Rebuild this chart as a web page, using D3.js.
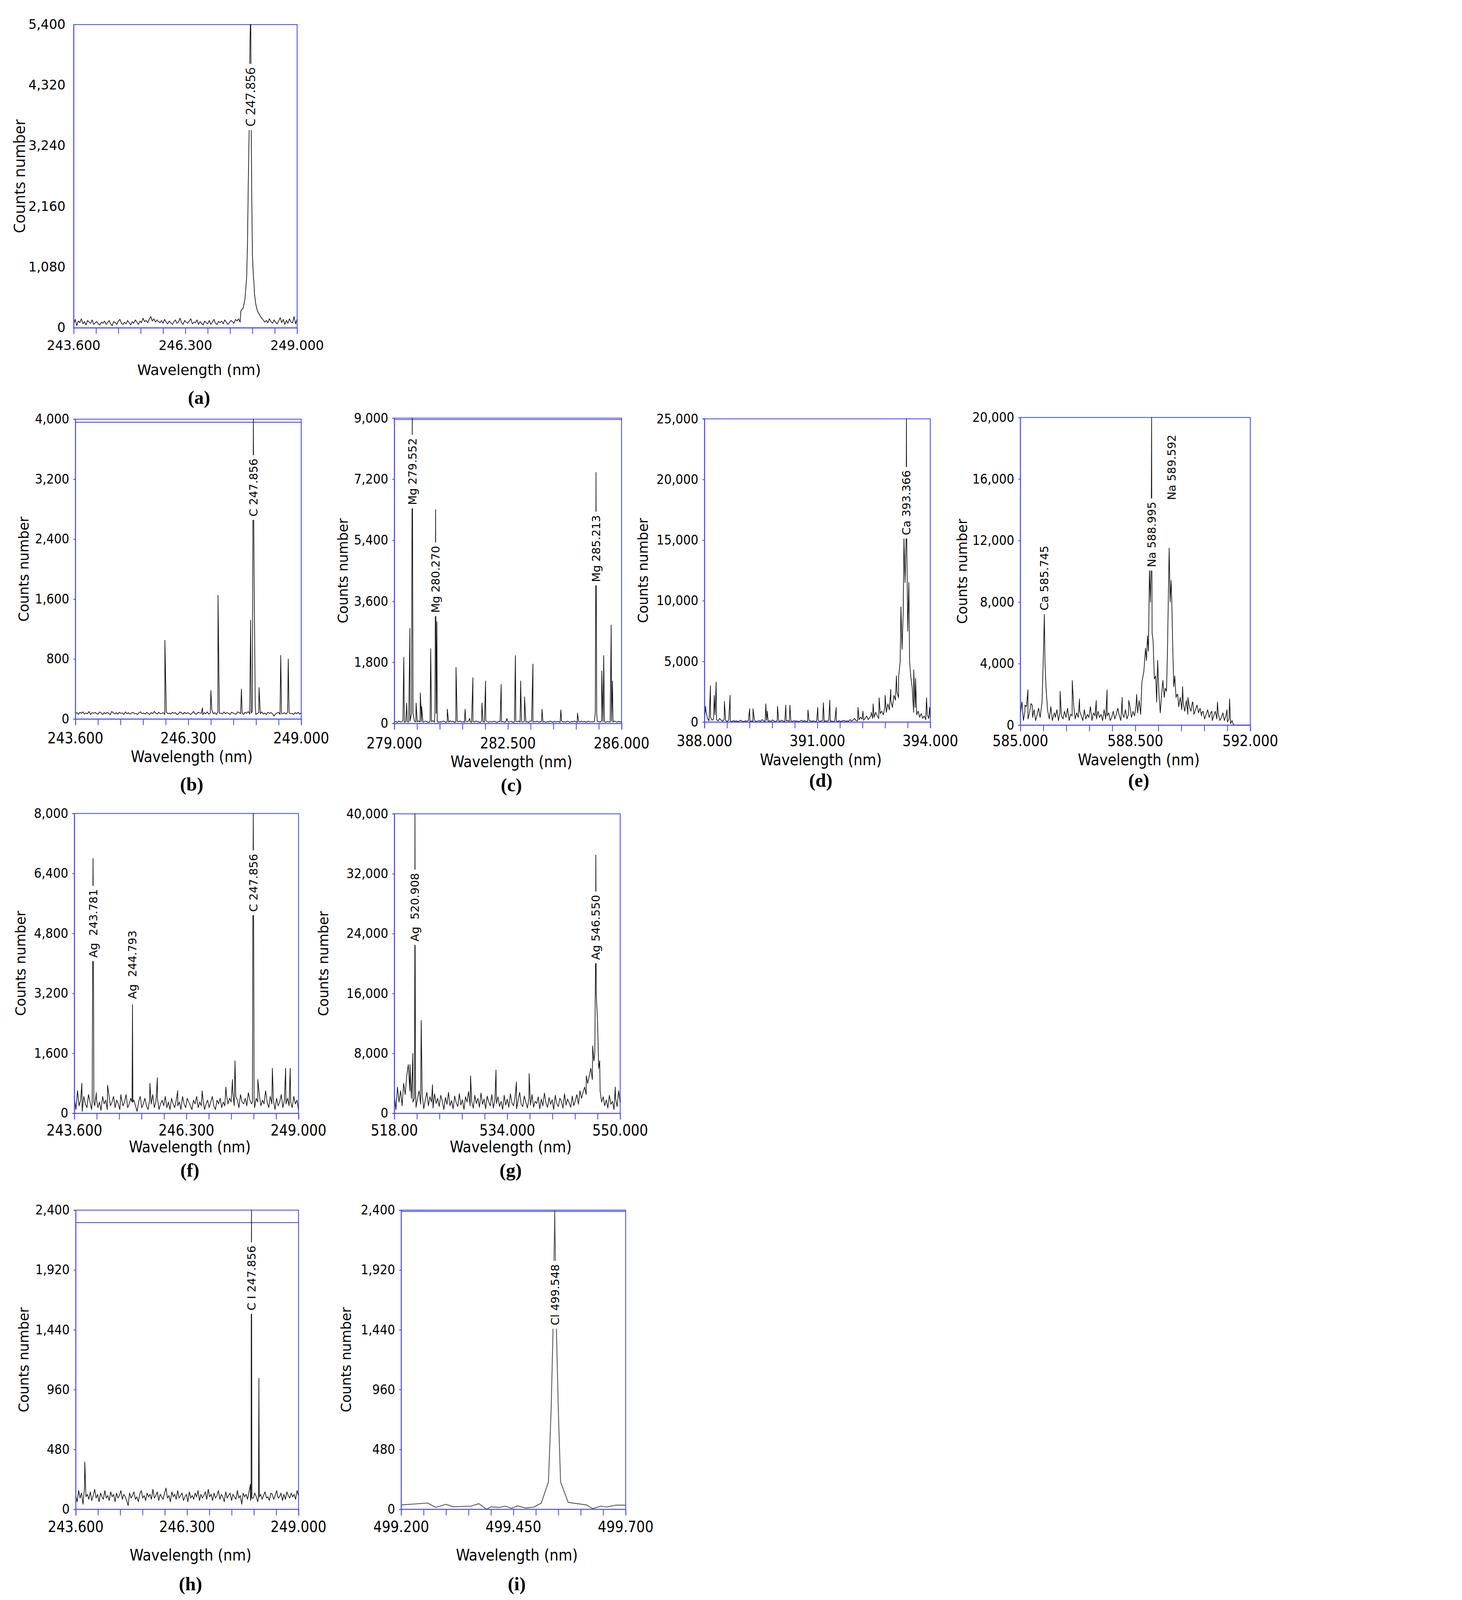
<!DOCTYPE html>
<html><head><meta charset="utf-8">
<script src="https://cdn.jsdelivr.net/npm/d3@7"></script>
<style>html,body{margin:0;padding:0;background:#fff;overflow:hidden;width:100%;height:100%}svg{display:block;width:100vw;height:100vh}</style>
</head><body>
<svg id="c" viewBox="0 0 3742 4691" preserveAspectRatio="xMinYMin meet"></svg>
<script>
// ---------------- DATA ----------------
const aNoise=[60,150,40,120,90,160,70,110,50,130,100,80,140,60,90,110,70,50,100,80,120,60,90,130,70,40,110,90,60,120,150,80,60,100,70,130,90,50,110,80,140,100,60,120,90,170,110,130,90,150,200,120,160,100,140,110,90,130,80,150,100,70,120,90,60,110,140,80,100,170,90,60,130,100,80,120,160,70,100,90,140,60,110,80,50,120,90,70,130,60,100,150,80,60,110,90,120,70,140,100,60,90,130,110,80,150,120,160,100,180,140,200,150,250,300,280,250,200,180,230,150,120,170,140,100,130,90,160,110,80,140,100,70,120,180,90,150,60,130,80,160,100,90,200,70,150];
const aPeaks=[[[247.64,300],[247.7,360],[247.74,520],[247.78,900],[247.8,1500],[247.82,2600],[247.84,3500],[247.86,5100],[247.87,5400],[247.88,5400],[247.89,3600],[247.905,2200],[247.92,1300],[247.94,950],[247.955,820],[247.97,600],[248.0,420],[248.04,300],[248.1,220]]];
const aLabels=[["C 247.856",247.872,4110]];

const bNoise=[70,85,60,90,75,95,65,80,70,100,60,85,75,90,70,65,95,80,60,85,70,90,75,60,100,80,70,85,65,90,75,80,60,95,70,85,65,80,90,70,75,60,85,95,70,80,65,90,75,60,85,70,100,80,65,90,70,75,85,60,95,70,80,65,90,75,85,60,70,95,80,65,90,70,85,75,60,80,100,70,65,90,80,75,60,85,70,95,65,80,120,70,85,60,90,75,80,65,95,70,85,75,60,90,80,70,65,95,85,70,80,60,90,75,100,65,80,70,90,60,75,85,70,95,65,80,60,90,75,85,70,40,65,80,90,60,75,70,85,65,90,80,70,75,60,85,70,90,65,80];
const bPeaks=[[[245.74,1050]],[[246.64,150]],[[246.84,380]],[[247.01,1650]],[[247.57,400]],[[247.79,1320]],[[247.83,100],[247.845,2620],[247.856,4000],[247.865,2600],[247.88,1500],[247.9,200]],[[247.99,420]],[[248.51,850]],[[248.69,800]]];
const bLabels=[["C 247.856",247.856,3088]];
const bExtra=[3960];

const cNoise=[40,60,30,70,50,45,80,35,60,50,40,70,55,30,65,45,50,75,40,60,35,55,70,45,30,60,50,80,40,55,65,35,50,45,70,60,30,55,40,75,50,65,35,45,60,50,70,40,55,30,65,45,80,50,35,60,40,70,55,45,30,65,50,40,75,55,35,60,45,50,70,40,30,65,55,45,60,35,50,80,40,55,65,30,45,60,50,70,35,55,40,65,45,50,30,75,60,40,55,45,70,35,50,65,40,60,30,55,45,70,50,35,65,40,60,55,30,75,45,50,40,65,55,35,60,45,70,50,30,55,40,65,45,60,35,50,70,40,55,45,60,30,65,50,40,75,45,55,35,60,50,40,65,45,70,55,35,60,45,50];
const cPeaks=[[[279.29,1950]],[[279.38,600]],[[279.48,2800]],[[279.53,300],[279.545,6500],[279.552,9000],[279.56,6400],[279.575,300]],[[279.67,600]],[[279.8,900]],[[279.84,500]],[[280.12,2200]],[[280.25,300],[280.262,3400],[280.27,6300],[280.278,3300],[280.29,300]],[[280.31,3000]],[[280.63,420]],[[280.9,1650]],[[281.18,420]],[[281.32,150]],[[281.42,1350]],[[281.7,600]],[[281.81,1250]],[[282.29,1150]],[[282.47,150]],[[282.73,2000]],[[282.89,1250]],[[283.01,780]],[[283.27,1750]],[[283.55,420]],[[284.13,400]],[[284.64,300]],[[285.19,300],[285.205,4100],[285.213,7400],[285.221,4000],[285.235,300]],[[285.39,1550]],[[285.45,2000]],[[285.68,2900]],[[285.72,1250]]];
const cLabels=[["Mg 279.552",279.552,7426],["Mg 280.270",280.27,4248],["Mg 285.213",285.213,5156]];
const cExtra=[8960];

const dNoise=[200,900,300,100,400,150,250,600,200,100,300,150,80,200,120,60,150,90,40,120,60,100,50,80,150,60,40,100,70,120,50,90,60,150,40,80,120,60,200,90,50,140,70,100,60,180,80,50,120,90,60,150,70,40,100,130,60,90,50,120,70,100,40,80,150,60,110,70,50,130,90,60,100,40,80,140,60,90,120,50,100,70,150,60,90,40,120,80,60,110,50,90,130,70,100,60,200,80,150,300,120,90,200,400,250,150,300,500,200,350,600,300,400,800,500,300,700,900,600,1200,800,1500,1000,1800,1200,2200,1800,2500,2000,3000,2400,2000,1600,1500,2200,1200,900,1500,800,1200,600,900,400,700,300,500,200,600,300,400];
const dPeaks=[[[388.03,1300]],[[388.16,3000]],[[388.26,2200]],[[388.31,3300]],[[388.53,1700]],[[388.68,2200]],[[389.2,1100]],[[389.29,1100]],[[389.63,1500]],[[389.67,900]],[[389.94,1300]],[[390.16,1400]],[[390.27,1400]],[[390.75,1000]],[[391.01,1200]],[[391.16,1600]],[[391.33,1800]],[[391.5,1200]],[[392.08,1200]],[[392.21,900]],[[392.43,800]],[[392.48,1500]],[[392.64,2000]],[[392.8,2200]],[[392.95,2700]],[[393.1,3800]],[[393.16,3800]],[[393.2,5000],[393.22,9500],[393.25,6000],[393.28,9000],[393.3,15200],[393.33,11500],[393.355,15000],[393.366,25000],[393.375,15000],[393.4,7500],[393.43,11500],[393.45,5000],[393.48,3800],[393.52,2800]],[[393.56,4300]],[[393.61,3600]],[[393.9,2000]],[[393.98,1200]]];
const dLabels=[["Ca 393.366",393.366,18083]];

const eNoise=[600,1500,300,900,1200,400,800,1400,500,1000,300,700,1100,500,2000,800,1500,600,900,400,1200,300,700,500,1000,300,800,600,400,900,500,1100,300,700,600,1300,400,800,500,900,600,300,1000,400,700,500,1200,300,800,600,400,900,500,700,300,1000,400,600,800,300,500,900,400,700,1100,600,300,800,500,1000,400,700,1200,500,900,600,1300,800,1600,700,1100,900,1400,1000,1800,1200,1600,2200,1800,2500,2000,3000,2600,3500,3000,2800,2400,3200,2000,2600,1800,2200,1500,2000,1200,1800,1000,1400,900,1600,700,1200,900,1500,700,1000,1300,800,1100,600,900,400,700,1000,500,800,300,600,900,400,700,300,500,800,300,600,200,400,100,300,0,0,0,0,0,0,0,0,0,0,0,0];
const ePeaks=[[[585.05,1500]],[[585.14,1300]],[[585.23,2300]],[[585.36,1300]],[[585.66,1500],[585.7,4500],[585.73,7200],[585.75,4000],[585.78,2500],[585.82,1200]],[[586.04,800]],[[586.21,2200]],[[586.58,2900]],[[586.8,1700]],[[587.31,1600]],[[587.64,2300]],[[588.1,1800]],[[588.3,1600]],[[588.54,2000]],[[588.7,2800],[588.76,3500],[588.81,5000],[588.84,4200],[588.87,5800],[588.9,4800],[588.93,10200],[588.96,8000],[588.98,10200],[588.995,20000],[589.01,6000],[589.04,5500],[589.08,3000],[589.12,3200],[589.15,1500],[589.18,4200],[589.22,2000],[589.26,800],[589.3,2000],[589.34,2900],[589.38,1800],[589.41,2400],[589.45,2200],[589.48,5000],[589.51,9000],[589.53,11500],[589.56,8000],[589.59,9400],[589.61,8000],[589.64,5000],[589.67,2500],[589.7,3200],[589.74,1800]],[[589.79,2000]],[[589.94,2500]],[[590.1,1800]],[[590.25,1500]],[[590.52,800]],[[590.83,900]],[[591.0,1500]],[[591.29,1000]],[[591.37,1700]]];
const eLabels=[["Ca 585.745",585.73,9561],["Na 588.995",588.995,12395],["Na 589.592",589.6,16760]];

const fNoise=[400,100,600,200,350,50,450,250,150,500,300,100,400,200,550,150,300,80,450,250,350,100,500,200,300,450,150,350,250,100,400,200,300,500,150,250,400,100,350,200,50,300,450,150,250,400,200,100,350,250,500,150,300,400,100,250,350,200,450,150,300,100,400,250,150,350,200,300,100,450,250,150,400,300,200,100,350,250,450,150,300,200,400,100,250,350,150,300,450,200,100,350,250,400,150,300,200,500,250,400,300,600,200,450,350,150,500,300,250,400,200,550,350,250,450,150,400,300,500,200,350,250,600,300,150,450,250,350,100,400,200,300,500,150,350,250,400,200,300,150,450,250,350,100];
const fPeaks=[[[243.78,800]],[[244.03,300],[244.045,5800],[244.05,6800],[244.06,4200],[244.07,300]],[[244.13,400]],[[244.4,750]],[[244.72,500]],[[244.99,300],[245.0,2900],[245.01,300]],[[245.42,800]],[[245.6,950]],[[246.09,600]],[[246.68,600]],[[247.25,700]],[[247.41,900]],[[247.47,1400]],[[247.89,300],[247.9,5200],[247.91,8000],[247.92,5000],[247.93,400]],[[248.02,900]],[[248.37,1200]],[[248.69,1200]],[[248.8,1200]]];
const fLabels=[["Ag  243.781",244.05,5066],["Ag  244.793",245.0,3964],["C 247.856",247.91,6150]];

const gNoise=[2500,500,3500,1500,3000,1000,4000,2500,5000,6500,3000,2000,1500,2500,800,2000,3000,1200,2500,600,1800,2800,1000,2200,1500,700,2600,1300,2000,900,2400,1600,500,2100,1200,2800,1000,1700,600,2300,1400,900,2600,1100,1800,500,2200,1500,2900,1000,1600,700,2400,1300,2000,800,2700,1200,1900,600,2300,1500,1000,2500,700,1800,1300,2200,900,1600,500,2400,1100,1900,800,2600,1400,1000,2100,600,1700,2800,1200,900,2300,1500,700,2000,1100,2500,800,1600,1300,2200,600,1900,1000,2700,1400,800,2100,1200,1800,500,2400,1300,900,2000,1600,700,2600,1100,1900,1400,800,2300,1000,1700,2500,1200,3000,2000,2800,3500,2500,4000,5000,6000,4500,7000,5500,3500,2500,3000,1500,2200,1000,1800,700,2400,1200,1600,500,2000,900,3000,1400];
const gPeaks=[[[520.22,6500]],[[520.63,8000]],[[520.85,2000],[520.9,23000],[520.92,40000],[520.95,21000],[521.0,3000]],[[521.8,12400]],[[523.4,3800]],[[528.8,5000]],[[532.4,5800]],[[535.3,4200]],[[537.1,5300]],[[545.2,5000]],[[546.1,9000]],[[546.4,8000],[546.5,20000],[546.55,34500],[546.6,16000],[546.8,12000],[546.95,6000]],[[547.1,7000]],[[549.3,3500]]];
const gLabels=[["Ag  520.908",520.92,27517],["Ag 546.550",546.55,24829]];

const hNoise=[110,60,150,90,130,40,170,100,120,80,140,70,110,160,90,120,60,130,100,80,150,90,110,70,140,100,120,60,130,90,110,150,80,120,100,70,30,130,90,110,140,80,100,60,120,150,90,110,70,130,100,120,80,160,90,110,140,70,120,100,80,130,170,90,110,60,140,100,120,80,150,90,110,130,70,100,120,60,140,90,110,80,130,100,150,70,120,90,110,140,80,160,100,120,70,130,90,110,150,80,120,100,60,140,90,110,130,70,120,100,80,150,90,110,40,130,100,120,80,140,70,110,90,130,100,60,150,120,80,110,140,90,100,70,130,120,80,110,150,90,100,130,70,120,80,140,110,90,130,100,120,80,150,110];
const hPeaks=[[[243.82,380]],[[247.835,200]],[[247.85,90],[247.855,1570],[247.86,2400],[247.865,1500],[247.87,90]],[[248.03,100],[248.04,1050],[248.05,100]]];
const hLabels=[["C I 247.856",247.858,1855]];
const hExtra=[2300];

const iPoints=[[499.2,35],[499.259,50],[499.277,15],[499.3,40],[499.316,20],[499.355,25],[499.373,45],[499.39,0],[499.4,20],[499.418,15],[499.431,25],[499.446,8],[499.459,27],[499.478,10],[499.496,18],[499.512,50],[499.528,220],[499.534,800],[499.538,1400],[499.542,2400],[499.546,1400],[499.55,800],[499.555,220],[499.572,55],[499.613,35],[499.626,5],[499.645,25],[499.658,18],[499.677,33],[499.7,33]];
const iLabels=[["Cl 499.548",499.543,1721]];
const iExtra=[2390];

const xTicksA=["243.600","246.300","249.000"];
const xTicksC=["279.000","282.500","286.000"];
const xTicksD=["388.000","391.000","394.000"];
const xTicksE=["585.000","588.500","592.000"];
const xTicksG=["518.00","534.000","550.000"];
const xTicksI=["499.200","499.450","499.700"];

// --------------- LAYOUT ---------------
const BLUE="#4a4aff";
const panels=[
 {tag:"(a)",x:[243.6,249],y:[0,5400],step:1080,box:[216,72,871,961],noise:aNoise,peaks:aPeaks,labels:aLabels,xt:xTicksA,style:"a",titleX:57,xtY:1026,xlY:1100,tagY:1184},
 {tag:"(b)",x:[243.6,249],y:[0,4000],step:800,box:[221,1229,883,2108],noise:bNoise,peaks:bPeaks,labels:bLabels,extra:bExtra,xt:xTicksA,titleX:70,xtY:2180,xlY:2234,tagY:2318},
 {tag:"(c)",x:[279,286],y:[0,9000],step:1800,box:[1156,1226,1822,2121],noise:cNoise,peaks:cPeaks,labels:cLabels,extra:cExtra,xt:xTicksC,titleX:1005,xtY:2194,xlY:2249,tagY:2320},
 {tag:"(d)",x:[388,394],y:[0,25000],step:5000,box:[2065,1228,2727,2117],noise:dNoise,peaks:dPeaks,labels:dLabels,xt:xTicksD,titleX:1885,xtY:2187,xlY:2243,tagY:2306},
 {tag:"(e)",x:[585,592],y:[0,20000],step:4000,box:[2991,1224,3665,2126],noise:eNoise,peaks:ePeaks,labels:eLabels,xt:xTicksE,titleX:2820,xtY:2187,xlY:2243,tagY:2306},
 {tag:"(f)",x:[243.6,249],y:[0,8000],step:1600,box:[218,2385,875,3264],noise:fNoise,peaks:fPeaks,labels:fLabels,xt:xTicksA,titleX:60,xtY:3329,xlY:3378,tagY:3450},
 {tag:"(g)",x:[518,550],y:[0,40000],step:8000,box:[1156,2386,1818,3264],noise:gNoise,peaks:gPeaks,labels:gLabels,xt:xTicksG,titleX:948,xtY:3329,xlY:3378,tagY:3450},
 {tag:"(h)",x:[243.6,249],y:[0,2400],step:480,box:[222,3548,875,4425],noise:hNoise,peaks:hPeaks,labels:hLabels,extra:hExtra,xt:xTicksA,titleX:70,xtY:4492,xlY:4575,tagY:4662},
 {tag:"(i)",x:[499.2,499.7],y:[0,2400],step:480,box:[1176,3548,1834,4425],points:iPoints,labels:iLabels,extra:iExtra,xt:xTicksI,titleX:1015,xtY:4492,xlY:4575,tagY:4662,grey:true}
];

const svg=d3.select("#c");
const COND="'DejaVu Sans Condensed','DejaVu Sans',sans-serif";

panels.forEach(p=>{
 const [L,T,R,B]=p.box;
 const xs=d3.scaleLinear().domain(p.x).range([L,R]);
 const ys=d3.scaleLinear().domain(p.y).range([B,T]);
 const g=svg.append("g");
 let pts;
 if(p.points){pts=p.points.slice();}
 else{
  const n=p.noise.length;
  const spans=p.peaks.map(c=>[d3.min(c,d=>d[0]),d3.max(c,d=>d[0])]);
  const pad=0.002*(p.x[1]-p.x[0]);
  pts=p.noise.map((v,i)=>[p.x[0]+(p.x[1]-p.x[0])*i/(n-1),v])
   .filter(d=>!spans.some(s=>s[1]>s[0]&&d[0]>=s[0]-pad&&d[0]<=s[1]+pad));
  p.peaks.forEach(c=>c.forEach(d=>pts.push(d)));
  pts.sort((a,b)=>a[0]-b[0]);
 }
 const isA=p.style==="a";
 g.append("rect").attr("x",L).attr("y",T).attr("width",R-L).attr("height",B-T)
  .attr("fill","none").attr("stroke",BLUE).attr("stroke-width",2.5);
 (p.extra||[]).forEach(v=>g.append("line").attr("x1",L).attr("x2",R).attr("y1",ys(v)).attr("y2",ys(v)).attr("stroke",BLUE).attr("stroke-width",2.5));
 g.append("path").datum(pts).attr("d",d3.line().x(d=>xs(d[0])).y(d=>ys(Math.min(d[1],p.y[1]))))
  .attr("fill","none").attr("stroke",p.grey?"#555":"#111").attr("stroke-width",p.grey?2.5:2).attr("stroke-linejoin","round");
 const xAx=d3.axisBottom(xs).tickValues(d3.range(11).map(i=>p.x[0]+(p.x[1]-p.x[0])*i/10)).tickSize(18).tickFormat("");
 const gx=g.append("g").attr("transform",`translate(0,${B})`).call(xAx);
 gx.selectAll("path,line").attr("stroke",BLUE).attr("stroke-width",2.5);
 p.xt.forEach((t,i)=>g.append("text").attr("x",xs(p.x[0]+(p.x[1]-p.x[0])*i/2)).attr("y",p.xtY)
   .attr("text-anchor","middle").attr("font-family",isA?"'DejaVu Sans',sans-serif":COND).attr("font-size",isA?38:44).text(t));
 const yAx=d3.axisLeft(ys).tickValues(d3.range(p.y[0],p.y[1]+1,p.step)).tickSize(isA?0:6).tickPadding(isA?24:12).tickFormat(d3.format(","));
 const gy=g.append("g").attr("transform",`translate(${L},0)`).call(yAx);
 gy.select(".domain").attr("stroke",BLUE).attr("stroke-width",2.5);
 gy.selectAll("line").attr("stroke",BLUE).attr("stroke-width",2.5);
 gy.selectAll("text").attr("font-family",isA?"'DejaVu Sans',sans-serif":COND).attr("font-size",isA?38:39).attr("fill","#000");
 g.append("text").attr("transform",`translate(${p.titleX},${(T+B)/2}) rotate(-90)`).attr("text-anchor","middle")
  .attr("dy","0.35em").attr("font-family",isA?"'Open Sans',sans-serif":"'DejaVu Sans',sans-serif").attr("font-size",isA?46:40).text("Counts number");
 g.append("text").attr("x",(L+R)/2+(isA?40:10)).attr("y",p.xlY).attr("text-anchor","middle")
  .attr("font-family",isA?"'DejaVu Sans',sans-serif":COND).attr("font-size",isA?42:46).text("Wavelength (nm)");
 g.append("text").attr("x",(L+R)/2+(isA?40:10)).attr("y",p.tagY).attr("text-anchor","middle")
  .attr("font-family","'Liberation Serif','DejaVu Serif',serif").attr("font-weight","bold").attr("font-size",56).text(p.tag);
 p.labels.forEach(([txt,xv,yv])=>{
  const lg=g.append("g").attr("transform",`translate(${xs(xv)},${ys(yv)}) rotate(-90)`);
  const t=lg.append("text").attr("text-anchor","middle").attr("dy","0.36em").style("white-space","pre")
   .attr("font-family",isA?"'Open Sans',sans-serif":"'DejaVu Sans',sans-serif").attr("font-size",isA?38:33).text(txt);
  const bb=t.node().getBBox();
  lg.insert("rect","text").attr("x",bb.x-10).attr("y",bb.y-2).attr("width",bb.width+20).attr("height",bb.height+4).attr("fill","#fff");
 });
});
</script>
</body></html>
